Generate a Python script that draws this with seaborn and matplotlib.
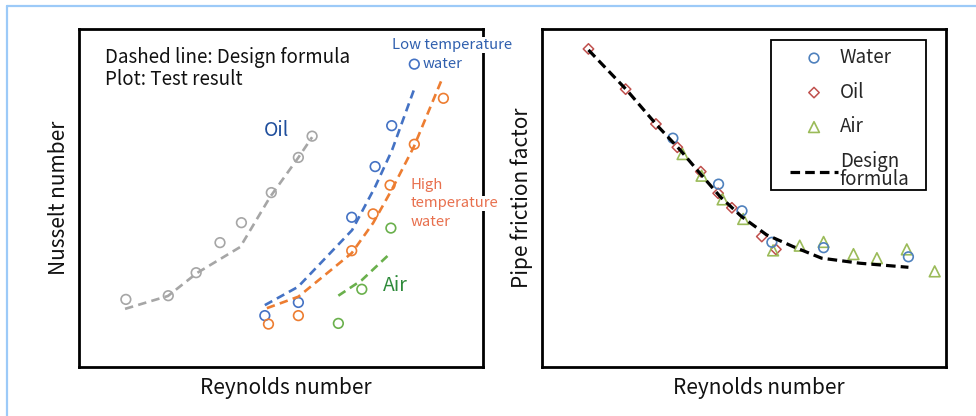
import matplotlib
matplotlib.use("Agg")
import matplotlib.pyplot as plt
import seaborn as sns
import pandas as pd
from matplotlib.lines import Line2D
from matplotlib.patches import Rectangle

sns.set_theme(style="white")
plt.rcParams['font.family'] = ['Noto Sans CJK JP', 'DejaVu Sans']

# ---------------- Left panel data (arbitrary units, 0-100) ----------------
oil_x = [11.6, 22.1, 29.0, 34.9, 40.2, 47.6, 54.3, 57.7]
oil_y = [20.0, 21.1, 27.9, 36.8, 42.7, 51.6, 62.0, 68.3]
oil_fx = [11.4, 22.0, 29.2, 39.9, 47.3, 54.2, 57.7]
oil_fy = [17.2, 21.0, 27.8, 35.5, 50.3, 61.8, 68.0]

lowt_x = [46.0, 54.3, 67.5, 73.3, 77.4, 83.0]
lowt_y = [15.2, 19.1, 44.3, 59.3, 71.4, 89.6]
lowt_fx = [46.0, 54.2, 67.6, 73.3, 77.5, 82.9]
lowt_fy = [18.3, 23.7, 40.5, 53.3, 64.2, 82.0]

hight_x = [46.9, 54.3, 67.5, 72.8, 77.0, 83.0, 90.2]
hight_y = [12.7, 15.2, 34.4, 45.3, 53.8, 65.9, 79.5]
hight_fx = [46.5, 54.3, 67.5, 72.8, 77.4, 82.9, 90.1]
hight_fy = [17.4, 20.8, 33.7, 42.6, 52.4, 65.2, 85.9]

air_x = [64.2, 70.0, 77.2]
air_y = [12.9, 23.0, 41.1]
air_fx = [64.2, 70.0, 77.2]
air_fy = [21.1, 25.7, 33.8]

# ---------------- Right panel data ----------------
f_oil_x = [11.5, 20.7, 28.2, 33.5, 39.3, 43.6, 47.0, 54.4, 57.9]
f_oil_y = [94.1, 82.2, 71.9, 65.0, 57.8, 51.4, 47.1, 38.6, 34.8]
f_water_x = [32.4, 43.7, 49.5, 56.9, 69.7, 90.7]
f_water_y = [67.7, 54.1, 46.2, 36.9, 35.3, 32.6]
f_air_x = [34.8, 39.5, 44.7, 49.8, 57.2, 63.8, 69.7, 77.1, 82.9, 90.3, 97.2]
f_air_y = [63.0, 56.6, 49.6, 43.8, 34.5, 35.9, 37.0, 33.4, 32.2, 34.8, 28.3]
f_design_x = [11.5, 21.0, 28.4, 34.2, 39.1, 44.1, 49.4, 55.6, 62.2, 69.2, 78.7, 90.7]
f_design_y = [93.8, 81.9, 71.6, 64.2, 57.3, 50.4, 44.5, 39.1, 35.6, 32.2, 30.7, 29.5]

legend_labels = ["Water", "Oil", "Air", "Design\nformula"]

C_GRAY = "#a6a6a6"
C_BLUE = "#4472c4"
C_ORANGE = "#ed7d31"
C_GREEN = "#6ab04c"
R_BLUE = "#4f81bd"
R_RED = "#c0504d"
R_GREEN = "#9bbb59"

W, H = 976, 416
fig = plt.figure(figsize=(W / 100, H / 100), dpi=100)
fig.patch.set_facecolor("white")

def px_axes(x0, y0, x1, y1):
    return fig.add_axes([x0 / W, 1 - y1 / H, (x1 - x0) / W, (y1 - y0) / H])

ax1 = px_axes(79, 29, 483, 367)
ax2 = px_axes(542, 29, 946, 367)

dash = (0, (3.2, 2.0))
ms = 48
for fx, fy, c in [(oil_fx, oil_fy, C_GRAY), (lowt_fx, lowt_fy, C_BLUE),
                  (hight_fx, hight_fy, C_ORANGE), (air_fx, air_fy, C_GREEN)]:
    sns.lineplot(x=fx, y=fy, ax=ax1, color=c, lw=1.9, linestyle=dash, sort=False)
for x, y, c in [(oil_x, oil_y, C_GRAY), (lowt_x, lowt_y, C_BLUE),
                (hight_x, hight_y, C_ORANGE), (air_x, air_y, C_GREEN)]:
    sns.scatterplot(x=x, y=y, ax=ax1, marker="o", s=ms, facecolors="none",
                    edgecolor=c, linewidth=1.2)

# Right panel
sns.lineplot(x=f_design_x, y=f_design_y, ax=ax2, color="black", lw=2.3,
             linestyle=(0, (3.0, 1.6)), sort=False, label=legend_labels[3])
sns.scatterplot(x=f_oil_x, y=f_oil_y, ax=ax2, marker="D", s=28, facecolors="none",
                edgecolor=R_RED, linewidth=1.1, label=legend_labels[1])
sns.scatterplot(x=f_air_x, y=f_air_y, ax=ax2, marker="^", s=60, facecolors="none",
                edgecolor=R_GREEN, linewidth=1.2, label=legend_labels[2])
sns.scatterplot(x=f_water_x, y=f_water_y, ax=ax2, marker="o", s=ms, facecolors="none",
                edgecolor=R_BLUE, linewidth=1.2, label=legend_labels[0])

handles, labels = ax2.get_legend_handles_labels()
hmap = dict(zip(labels, handles))
leg = ax2.legend([hmap[k] for k in legend_labels], legend_labels, loc="upper left",
                 bbox_to_anchor=((790 - 542) / 404, (367 - 47) / 338), borderaxespad=0,
                 fontsize=13.5, frameon=False, handlelength=2.56, handletextpad=0.1,
                 labelspacing=0.72, borderpad=0.0)
for t in leg.get_texts():
    t.set_linespacing(0.84)
# legend box outline
ax2.add_patch(Rectangle(((771 - 542) / 404, (367 - 190) / 338), 155 / 404, 150 / 338,
                        transform=ax2.transAxes, fill=False, ec="black", lw=1.3,
                        zorder=4, clip_on=False))

for ax in (ax1, ax2):
    ax.set_xlim(0, 100)
    ax.set_ylim(0, 100)
    ax.set_xticks([])
    ax.set_yticks([])
    for sp in ax.spines.values():
        sp.set_visible(True)
        sp.set_color("black")
        sp.set_linewidth(2.0)
    ax.set_facecolor("white")

ax1.set_xlabel("Reynolds number", fontsize=15, color="#111111")
ax1.xaxis.set_label_coords((286 - 79) / 404, -0.03)
ax1.set_ylabel("Nusselt number", fontsize=15, color="#111111", labelpad=6.5)
ax2.set_xlabel("Reynolds number", fontsize=15, color="#111111")
ax2.xaxis.set_label_coords((759 - 542) / 404, -0.03)
ax2.set_ylabel("Pipe friction factor", fontsize=15, color="#111111", labelpad=6.6)

# annotations (left)
ax1.text(0.064, 0.883, "Dashed line: Design formula\nPlot: Test result",
         transform=ax1.transAxes, fontsize=13.5, color="#111111",
         va="center", ha="left", linespacing=1.1)
ax1.text(0.490, 0.700, "Oil", transform=ax1.transAxes, fontsize=14,
         color="#1f4e9c", ha="center", va="center")
ax1.text(0.782, 0.240, "Air", transform=ax1.transAxes, fontsize=14,
         color="#2e8b3a", ha="center", va="center")
ax1.text(0.774, 0.952, "Low temperature", transform=ax1.transAxes, fontsize=10.7,
         color="#2f5fae", ha="left", va="center", clip_on=False, zorder=5,
         bbox=dict(boxstyle="square,pad=0.05", fc="white", ec="none"))
ax1.text(0.851, 0.896, "water", transform=ax1.transAxes, fontsize=10.7,
         color="#2f5fae", ha="left", va="center", zorder=5)
for txt, yy in [("High", 0.538), ("temperature", 0.484), ("water", 0.428)]:
    ax1.text(0.820, yy, txt, transform=ax1.transAxes, fontsize=10.7,
             color="#e8704e", ha="left", va="center", clip_on=False, zorder=5,
             bbox=dict(boxstyle="square,pad=0.05", fc="white", ec="none"))

# light blue frame around the figure
fig.add_artist(Line2D([7 / W, 1.0], [1 - 6 / H, 1 - 6 / H], transform=fig.transFigure,
                      color="#9ccaf8", lw=1.6))
fig.add_artist(Line2D([7 / W, 7 / W], [0, 1 - 6 / H], transform=fig.transFigure,
                      color="#9ccaf8", lw=1.6))

fig.savefig("out.png", dpi=100, facecolor="white")
